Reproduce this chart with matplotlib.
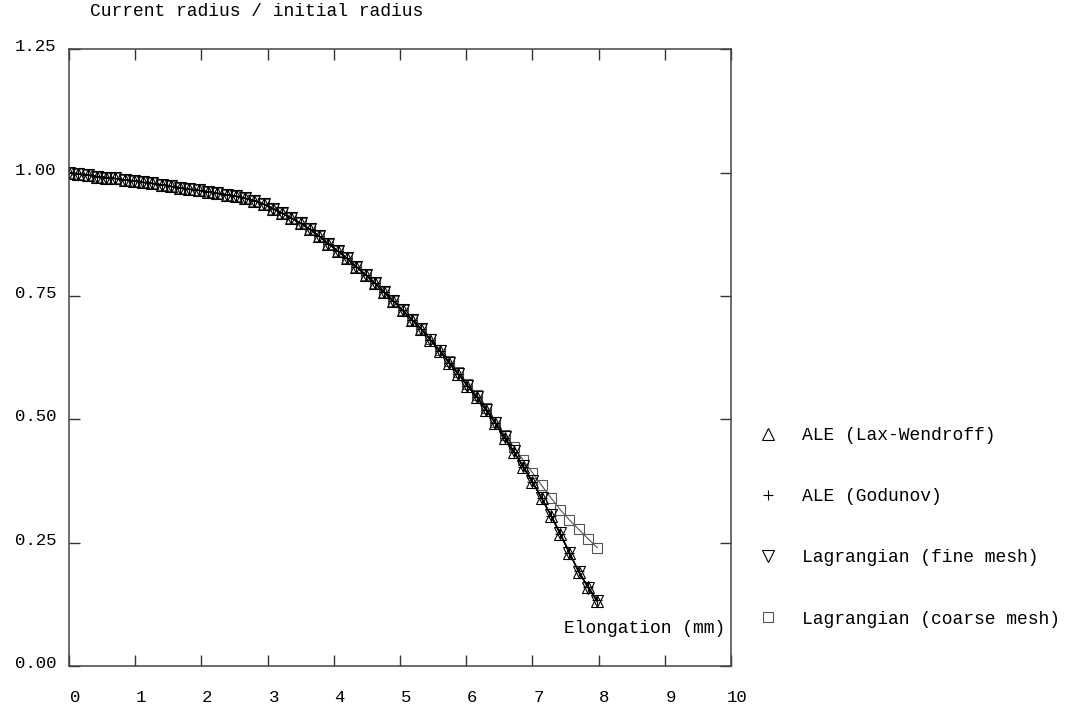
import matplotlib.pyplot as plt
from matplotlib.transforms import ScaledTranslation

# elongation (mm) at each output step
elong = [0.00, 0.14, 0.28, 0.42, 0.56, 0.70, 0.84, 0.98, 1.12, 1.26,
         1.40, 1.54, 1.68, 1.82, 1.96, 2.10, 2.24, 2.38, 2.52, 2.66,
         2.80, 2.94, 3.08, 3.22, 3.36, 3.50, 3.64, 3.78, 3.92, 4.06,
         4.20, 4.34, 4.48, 4.62, 4.76, 4.90, 5.04, 5.18, 5.32, 5.46,
         5.60, 5.74, 5.88, 6.02, 6.16, 6.30, 6.44, 6.58, 6.72, 6.86,
         7.00, 7.14, 7.28, 7.42, 7.56, 7.70, 7.84, 7.98]

# current radius / initial radius
r_ale_lw = [1.000, 0.997, 0.995, 0.992, 0.990, 0.988, 0.985, 0.983, 0.980, 0.978,
            0.975, 0.972, 0.969, 0.966, 0.964, 0.961, 0.958, 0.955, 0.952, 0.948,
            0.943, 0.936, 0.927, 0.918, 0.908, 0.897, 0.885, 0.871, 0.856, 0.841,
            0.826, 0.809, 0.793, 0.776, 0.758, 0.740, 0.721, 0.702, 0.683, 0.661,
            0.639, 0.615, 0.592, 0.568, 0.545, 0.519, 0.492, 0.463, 0.434, 0.404,
            0.373, 0.340, 0.305, 0.268, 0.229, 0.191, 0.160, 0.132]
r_ale_god = [1.000, 0.997, 0.995, 0.992, 0.990, 0.988, 0.985, 0.983, 0.980, 0.978,
             0.975, 0.972, 0.969, 0.966, 0.964, 0.961, 0.958, 0.955, 0.952, 0.948,
             0.943, 0.936, 0.927, 0.918, 0.908, 0.897, 0.885, 0.871, 0.856, 0.841,
             0.826, 0.809, 0.793, 0.776, 0.758, 0.740, 0.721, 0.702, 0.683, 0.661,
             0.639, 0.615, 0.592, 0.568, 0.545, 0.519, 0.492, 0.463, 0.434, 0.404,
             0.373, 0.340, 0.305, 0.268, 0.229, 0.192, 0.161, 0.133]
r_lag_fine = [1.000, 0.997, 0.995, 0.992, 0.990, 0.988, 0.985, 0.983, 0.980, 0.978,
              0.975, 0.972, 0.969, 0.966, 0.964, 0.961, 0.958, 0.955, 0.952, 0.948,
              0.943, 0.936, 0.927, 0.918, 0.908, 0.897, 0.885, 0.871, 0.856, 0.841,
              0.826, 0.809, 0.793, 0.776, 0.758, 0.740, 0.721, 0.702, 0.683, 0.661,
              0.639, 0.615, 0.592, 0.568, 0.545, 0.519, 0.493, 0.464, 0.435, 0.405,
              0.374, 0.341, 0.306, 0.269, 0.230, 0.191, 0.159, 0.131]
r_lag_coarse = [1.000, 0.997, 0.995, 0.992, 0.990, 0.988, 0.985, 0.983, 0.980, 0.978,
                0.975, 0.972, 0.969, 0.966, 0.964, 0.961, 0.958, 0.955, 0.952, 0.948,
                0.943, 0.936, 0.927, 0.918, 0.908, 0.897, 0.885, 0.871, 0.856, 0.841,
                0.826, 0.809, 0.793, 0.776, 0.758, 0.740, 0.721, 0.702, 0.683, 0.662,
                0.641, 0.618, 0.595, 0.572, 0.549, 0.523, 0.495, 0.469, 0.444, 0.418,
                0.392, 0.366, 0.341, 0.317, 0.296, 0.277, 0.258, 0.240]

labels = ["ALE (Lax-Wendroff)", "ALE (Godunov)",
          "Lagrangian (fine mesh)", "Lagrangian (coarse mesh)"]

x_ticks = [0, 1, 2, 3, 4, 5, 6, 7, 8, 9, 10]
y_ticks = [0.00, 0.25, 0.50, 0.75, 1.00, 1.25]

plt.rcParams["font.family"] = ["Liberation Mono", "DejaVu Sans Mono"]

fig = plt.figure(figsize=(10.66, 7.09), dpi=100)
ax = fig.add_axes([0.0647, 0.0606, 0.621, 0.870])

ax.plot(elong, r_lag_coarse, color="#555555", lw=0.8, marker="s", ms=7.5,
        mfc="none", mec="#555555", mew=0.8, label=labels[3])
ax.plot(elong, r_ale_lw, color="black", lw=1.0, marker="^", ms=8,
        mfc="none", mec="black", mew=0.8, label=labels[0])
ax.plot(elong, r_ale_god, color="black", lw=1.0, marker="+", ms=7,
        mec="black", mew=0.8, label=labels[1])
ax.plot(elong, r_lag_fine, color="black", lw=1.0, marker="v", ms=8,
        mfc="none", mec="black", mew=0.8, label=labels[2])

ax.set_xlim(0, 10)
ax.set_ylim(0, 1.25)
ax.set_xticks(x_ticks)
ax.set_yticks(y_ticks)
ax.set_xticklabels([str(t) for t in x_ticks])
ax.set_yticklabels([f"{t:.2f}" for t in y_ticks])
ax.tick_params(direction="in", length=8, width=1, color="#333333",
               top=True, right=True, labelsize=12.5)
ax.tick_params(axis="x", pad=17)
ax.tick_params(axis="y", pad=9)
for s in ax.spines.values():
    s.set_color("#444444")
    s.set_linewidth(1.1)

# the original labels sit a little off their ticks
for lab in ax.get_xticklabels():
    lab.set_transform(lab.get_transform() + ScaledTranslation(6 / 100, 0, fig.dpi_scale_trans))
for lab in ax.get_yticklabels():
    lab.set_transform(lab.get_transform() + ScaledTranslation(0, 4 / 100, fig.dpi_scale_trans))

ax.text(0.991, 0.0616, "Elongation (mm)", transform=ax.transAxes,
        ha="right", va="center", fontsize=13)
fig.text(90 / 1066, 1 - 12 / 709, "Current radius / initial radius",
         ha="left", va="center", fontsize=13)

handles, labs = ax.get_legend_handles_labels()
order = [1, 2, 3, 0]
leg = fig.legend([handles[i] for i in order], [labs[i] for i in order],
                 loc="upper left", bbox_to_anchor=(759 / 1066, 1 - 427 / 709),
                 frameon=False, fontsize=13, handlelength=1.0, handletextpad=1.4,
                 labelspacing=2.45, borderpad=0, borderaxespad=0)
for h in leg.legend_handles:
    h.set_linestyle("none")

fig.savefig("out.png", dpi=100)
plt.close(fig)
